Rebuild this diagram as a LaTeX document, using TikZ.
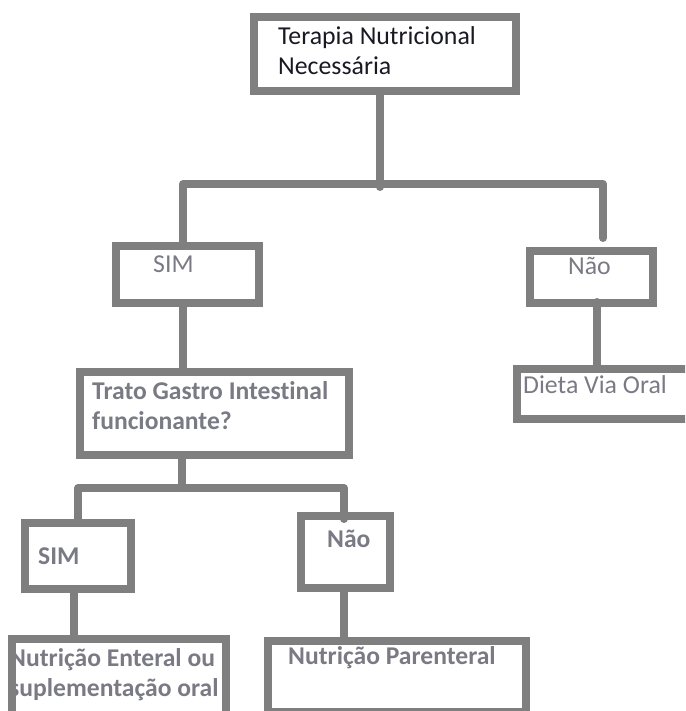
\documentclass[tikz,border=0pt]{standalone}
\usepackage{fontspec}
\setmainfont{Carlito}[Ligatures=CommonOff]
\usetikzlibrary{positioning}
\definecolor{boxgray}{RGB}{127,127,127}
\definecolor{txtgray}{RGB}{122,122,132}
\definecolor{txtdark}{RGB}{25,25,35}
\tikzset{
    box/.style={draw=boxgray, line width=8pt, inner sep=0pt, rectangle},
    link/.style={draw=boxgray, line width=8pt, line cap=round, line join=round},
    lbl/.style={inner sep=0pt, anchor=base west, text=txtgray, font=\fontsize{25.8}{30}\selectfont},
    lblbold/.style={lbl, font=\fontsize{25.6}{30}\selectfont\bfseries},
}

\begin{document}
\begin{tikzpicture}[x=1pt, y=-1pt]
        \path[use as bounding box, clip] (0,0) rectangle (685,711);

        \node[lbl, text=txtdark] (terapiaA) at (278,45) {Terapia Nutricional};
        \node[lbl, text=txtdark] (terapiaB) at (278,75) {Necessária};
        \node[lbl] (simA) at (153,272) {SIM};
        \node[lbl] (naoA) at (568,274) {Não};
        \node[lbl] (dietaA) at (523,393) {Dieta Via Oral};
        \node[lblbold] (tratoA) at (92,399) {Trato Gastro Intestinal};
        \node[lblbold] (tratoB) at (92,429) {funcionante?};
        \node[lblbold] (simB) at (38,564) {SIM};
        \node[lblbold] (naoB) at (327,547) {Não};
        \node[lblbold] (enteralA) at (9,666) {Nutrição Enteral ou};
        \node[lblbold] (enteralB) at (9,696) {suplementação oral};
        \node[lblbold] (parenteralA) at (288,664) {Nutrição Parenteral};

        \node[box, minimum width=262, minimum height=74] (terapia) at (385,54) {};
        \node[box, minimum width=143, minimum height=57] (sim1) at (187.5,274.5) {};
        \node[box, minimum width=123, minimum height=52] (nao1) at (591.5,277) {};
        \node[box, minimum width=183, minimum height=50] (dieta) at (608.5,394) {};
        \node[box, minimum width=269, minimum height=83] (trato) at (214.5,413.5) {};
        \node[box, minimum width=106, minimum height=66] (sim2) at (78,556) {};
        \node[box, minimum width=89, minimum height=72] (nao2) at (345.5,552) {};
        \node[box, minimum width=214, minimum height=81] (enteral) at (119,679.5) {};
        \node[box, minimum width=258, minimum height=71] (parenteral) at (397,676.5) {};

        \coordinate (hub1) at (380,184);
        \coordinate (hub1l) at (183,184);
        \coordinate (hub1r) at (603,184);
        \coordinate (hub2) at (182,488);
        \coordinate (hub2l) at (78,488);
        \coordinate (hub2r) at (344,488);

        \draw[link] (terapia.south -| hub1) -- ([yshift=-3pt]hub1);
        \draw[link] (sim1.north -| hub1l) -- (hub1l) -- (hub1r) -- ([yshift=9pt]nao1.north -| hub1r);
        \draw[link] ([xshift=5.5pt,yshift=5pt]nao1.south) -- ([xshift=5.5pt]nao1.south |- dieta.north);
        \draw[link] (sim1.south -| hub1l) -- (trato.north -| hub1l);
        \draw[link] (trato.south -| hub2) -- (hub2);
        \draw[link] (sim2.north -| hub2l) -- (hub2l) -- (hub2r) -- ([yshift=-7pt]nao2.north -| hub2r);
        \draw[link] ([xshift=-4.5pt]sim2.south) -- ([xshift=-4.5pt]sim2.south |- enteral.north);
        \draw[link] ([xshift=-1.5pt]nao2.south) -- ([xshift=-1.5pt]nao2.south |- parenteral.north);
    \end{tikzpicture}
\end{document}
